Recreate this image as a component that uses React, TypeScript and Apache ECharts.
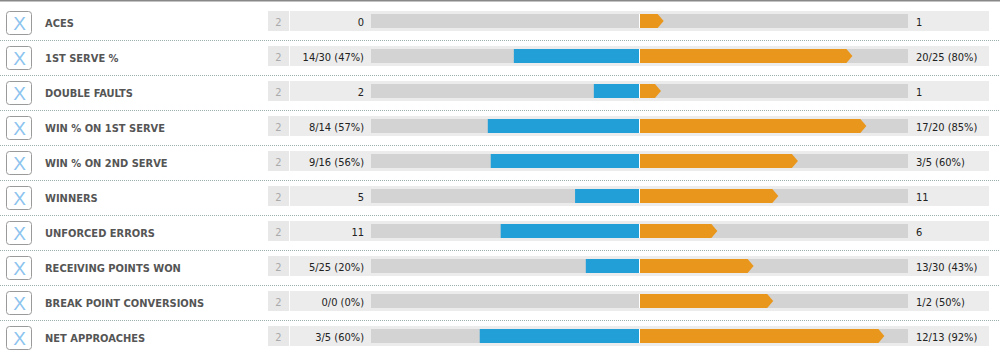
import React, { useEffect, useRef } from "react";
import * as echarts from "echarts";

const categories = [
  "ACES",
  "1ST SERVE %",
  "DOUBLE FAULTS",
  "WIN % ON 1ST SERVE",
  "WIN % ON 2ND SERVE",
  "WINNERS",
  "UNFORCED ERRORS",
  "RECEIVING POINTS WON",
  "BREAK POINT CONVERSIONS",
  "NET APPROACHES",
];
const setLabels = ["2", "2", "2", "2", "2", "2", "2", "2", "2", "2"];
const leftLabels = ["0", "14/30 (47%)", "2", "8/14 (57%)", "9/16 (56%)", "5", "11", "5/25 (20%)", "0/0 (0%)", "3/5 (60%)"];
const rightLabels = ["1", "20/25 (80%)", "1", "17/20 (85%)", "3/5 (60%)", "11", "6", "13/30 (43%)", "1/2 (50%)", "12/13 (92%)"];
// bar lengths as share of each half-track (0-100)
const leftBar = [0, 46.8, 17, 56.5, 55.4, 24, 51.7, 20, 0, 59.5];
const rightBar = [9, 79.3, 8, 84.5, 59, 51.7, 29, 42.5, 49.8, 91.2];

const BLUE = "#239fd8";
const ORANGE = "#e9961c";
const FAMILY = '"DejaVu Sans Condensed", "Liberation Sans", sans-serif';
const valFont = "11px " + FAMILY;
const catFont = "bold 11px " + FAMILY;

export default function App() {
  const ref = useRef<HTMLDivElement>(null);
  useEffect(() => {
    if (!ref.current) return;
    const chart = echarts.init(ref.current, undefined, { renderer: "svg" });
    const n = categories.length;
    chart.setOption({
      animation: false,
      grid: { left: 371, right: 92, top: 3.5, bottom: 2.5 },
      xAxis: { type: "value", min: -100, max: 100, show: false },
      yAxis: {
        type: "category",
        inverse: true,
        data: categories,
        axisLine: { show: false },
        axisTick: { show: false },
        splitLine: { show: false },
        axisLabel: { show: false },
      },
      graphic: [
        { type: "rect", shape: { x: 0, y: 0, width: 1000, height: 1.5 }, style: { fill: "#888" } },
      ],
      series: [
        {
          type: "custom",
          data: categories.map((_, i) => [0, i]),
          encode: { x: 0, y: 1 },
          renderItem: (params: any, api: any) => {
            const i = api.value(1);
            const c = api.coord([0, i])[1];
            const xl = api.coord([-100, i])[0];
            const xr = api.coord([100, i])[0];
            const xc = api.coord([0, i])[0];
            const children: any[] = [
              { type: "rect", shape: { x: 6.5, y: c - 9.5, width: 25, height: 23, r: 3 }, style: { fill: "#fff", stroke: "#9a9a9a", lineWidth: 1 } },
              { type: "text", x: 19.5, y: c + 2, style: { text: "X", fill: "#8cc4ef", font: '19px "Liberation Sans", sans-serif', align: "center", verticalAlign: "middle" } },
              { type: "text", x: 45, y: c + 2.5, style: { text: categories[i], fill: "#555", font: catFont, align: "left", verticalAlign: "middle" } },
              { type: "rect", shape: { x: 268, y: c - 10, width: 21, height: 20 }, style: { fill: "#e8e8e8" } },
              { type: "text", x: 278.5, y: c + 1.5, style: { text: setLabels[i], fill: "#aaa", font: valFont, align: "center", verticalAlign: "middle" } },
              { type: "rect", shape: { x: 290, y: c - 10, width: 699, height: 20 }, style: { fill: "#ececec" } },
              { type: "rect", shape: { x: xl, y: c - 7, width: xr - xl, height: 14 }, style: { fill: "#d3d3d3" } },
              { type: "rect", shape: { x: xc - 0.5, y: c - 7, width: 1, height: 14 }, style: { fill: "#fff" } },
              { type: "text", x: 364, y: c + 1.5, style: { text: leftLabels[i], fill: "#222", font: valFont, align: "right", verticalAlign: "middle" } },
              { type: "text", x: 916, y: c + 1.5, style: { text: rightLabels[i], fill: "#222", font: valFont, align: "left", verticalAlign: "middle" } },
            ];
            if (i < n - 1) {
              children.push({ type: "line", shape: { x1: 0, y1: c + 19.5, x2: 1000, y2: c + 19.5 }, style: { stroke: "#9db0b0", lineWidth: 1, lineDash: [1, 1] } });
            }
            return { type: "group", children };
          },
        },
        {
          type: "custom",
          data: leftBar.map((v, i) => [-v, i]),
          encode: { x: 0, y: 1 },
          renderItem: (params: any, api: any) => {
            const i = api.value(1);
            const v = api.value(0);
            if (!v) return { type: "group", children: [] };
            const p = api.coord([v, i]);
            const xc = api.coord([0, i])[0] - 0.5;
            return { type: "rect", shape: { x: p[0], y: p[1] - 7, width: xc - p[0], height: 14 }, style: { fill: BLUE } };
          },
        },
        {
          type: "custom",
          data: rightBar.map((v, i) => [v, i]),
          encode: { x: 0, y: 1 },
          renderItem: (params: any, api: any) => {
            const i = api.value(1);
            const v = api.value(0);
            if (!v) return { type: "group", children: [] };
            const p = api.coord([v, i]);
            const x0 = api.coord([0, i])[0] + 0.5;
            const c = p[1];
            const tip = 6;
            return {
              type: "polygon",
              shape: { points: [[x0, c - 7], [p[0] - tip, c - 7], [p[0], c], [p[0] - tip, c + 7], [x0, c + 7]] },
              style: { fill: ORANGE },
            };
          },
        },
      ],
    });
    return () => chart.dispose();
  }, []);
  return <div ref={ref} style={{ position: "fixed", left: 0, top: 0, width: 1000, height: 356, background: "#fff" }} />;
}
